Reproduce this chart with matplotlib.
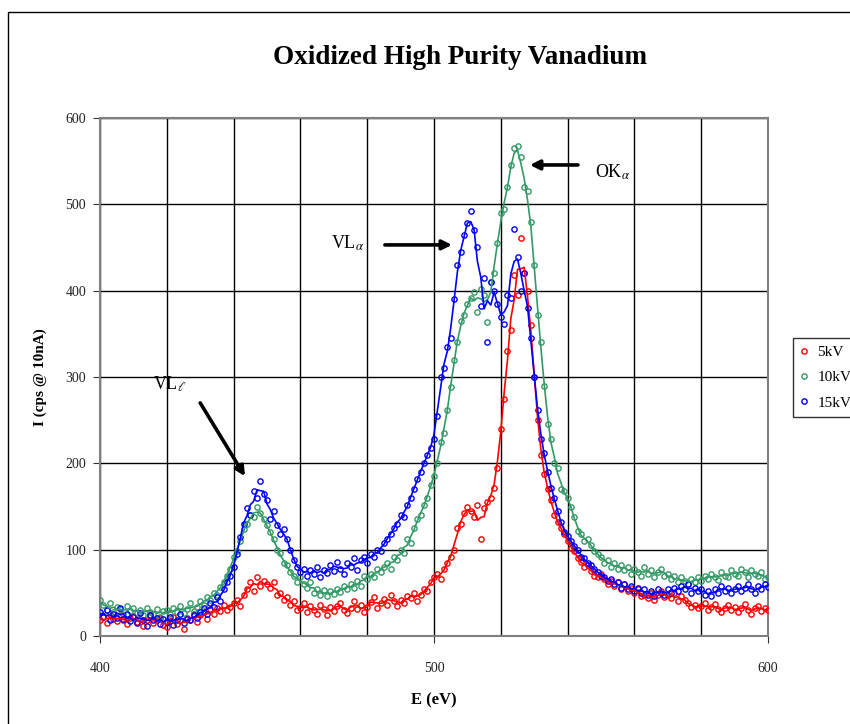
#!/usr/bin/env python3
"""Oxidized high purity vanadium spectra (5, 10, 15 kV)"""

import numpy as np
import pandas as pd
import matplotlib
matplotlib.use('Agg')
import matplotlib.pyplot as plt
from matplotlib.ticker import MultipleLocator, FixedLocator
from matplotlib.patches import Rectangle

plt.rcParams['font.family'] = ['Liberation Serif', 'DejaVu Serif']
plt.rcParams['mathtext.fontset'] = 'stix'

# energy axis, 1 eV steps
energy = np.arange(400, 601)

kv5 = [
    18, 22, 15, 25, 20, 17, 24, 19, 14, 21,
    23, 16, 20, 12, 18, 24, 15, 19, 21, 13,
    10, 17, 22, 14, 19, 8, 21, 18, 25, 16,
    24, 28, 20, 31, 26, 33, 29, 36, 30, 34,
    38, 42, 35, 48, 55, 62, 52, 68, 58, 64,
    60, 56, 63, 48, 50, 42, 45, 36, 40, 30,
    33, 38, 28, 35, 30, 26, 36, 31, 24, 34,
    29, 35, 38, 30, 27, 33, 40, 31, 36, 28,
    34, 39, 45, 32, 38, 43, 36, 48, 40, 35,
    42, 38, 46, 44, 50, 41, 48, 55, 52, 62,
    68, 72, 66, 78, 85, 92, 100, 125, 130, 142,
    150, 145, 138, 152, 112, 148, 155, 160, 172, 195,
    240, 275, 330, 355, 418, 395, 461, 420, 400, 360,
    300, 250, 210, 188, 170, 158, 140, 132, 125, 118,
    110, 102, 98, 90, 86, 80, 82, 75, 70, 68,
    72, 66, 60, 64, 58, 62, 55, 60, 52, 56,
    50, 54, 46, 48, 44, 50, 42, 47, 52, 45,
    48, 44, 50, 40, 46, 42, 38, 34, 36, 32,
    35, 38, 30, 34, 37, 31, 28, 33, 36, 30,
    34, 28, 32, 37, 30, 26, 33, 35, 29, 32,
    30,
]

kv10 = [
    42, 36, 30, 38, 28, 34, 31, 26, 35, 29,
    32, 27, 30, 24, 33, 28, 26, 31, 22, 29,
    30, 25, 33, 28, 35, 27, 31, 38, 29, 34,
    40, 36, 45, 42, 50, 48, 57, 62, 70, 78,
    92, 98, 110, 124, 130, 140, 138, 150, 142, 135,
    128, 120, 112, 100, 96, 84, 82, 74, 70, 63,
    68, 60, 56, 62, 50, 55, 48, 53, 46, 52,
    49, 55, 51, 58, 54, 60, 56, 64, 58, 70,
    66, 72, 68, 78, 74, 80, 85, 78, 92, 88,
    100, 96, 112, 108, 125, 135, 140, 152, 160, 175,
    185, 200, 225, 235, 262, 288, 320, 340, 365, 372,
    385, 392, 398, 375, 402, 395, 364, 410, 420, 455,
    490, 495, 520, 545, 565, 568, 555, 520, 515, 480,
    430, 372, 340, 290, 245, 228, 200, 195, 170, 168,
    160, 150, 138, 122, 118, 110, 112, 105, 98, 95,
    92, 85, 88, 80, 84, 78, 82, 76, 80, 72,
    78, 74, 70, 80, 72, 76, 68, 74, 78, 70,
    72, 66, 70, 62, 68, 64, 60, 66, 62, 68,
    64, 70, 66, 72, 68, 65, 74, 70, 68, 76,
    72, 70, 78, 74, 68, 76, 72, 70, 74, 66,
    68,
]

kv15 = [
    28, 22, 30, 18, 26, 21, 33, 20, 25, 17,
    22, 15, 27, 19, 12, 24, 18, 21, 14, 20,
    16, 22, 13, 19, 25, 15, 20, 18, 24, 21,
    28, 32, 25, 38, 34, 45, 40, 55, 62, 70,
    80, 95, 115, 130, 148, 140, 168, 160, 180, 165,
    158, 136, 145, 128, 118, 124, 112, 100, 88, 80,
    74, 78, 70, 76, 72, 80, 68, 77, 73, 82,
    75, 86, 78, 72, 84, 80, 90, 76, 88, 92,
    85, 95, 92, 100, 98, 108, 112, 118, 125, 130,
    140, 138, 152, 160, 170, 182, 190, 200, 210, 218,
    228, 255, 300, 310, 335, 345, 390, 430, 445, 465,
    478, 492, 470, 450, 382, 415, 340, 410, 400, 385,
    370, 361, 395, 392, 471, 439, 400, 420, 380, 345,
    300, 262, 228, 212, 190, 172, 160, 145, 132, 120,
    116, 110, 104, 100, 92, 90, 84, 82, 78, 74,
    70, 68, 64, 66, 60, 62, 56, 60, 54, 58,
    52, 56, 50, 54, 48, 52, 46, 55, 50, 48,
    54, 50, 56, 52, 58, 54, 60, 50, 56, 52,
    55, 48, 52, 46, 54, 50, 58, 52, 56, 50,
    54, 58, 52, 56, 60, 54, 50, 58, 55, 60,
    57,
]

labels = ['5kV', '10kV', '15kV']
colors = ['#ff0000', '#339966', '#0000ff']

df = pd.DataFrame({'5kV': kv5, '10kV': kv10, '15kV': kv15}, index=energy)
# moving average trendline, like the spreadsheet did
smooth = df.rolling(3, center=True, min_periods=1).mean()

fig = plt.figure(figsize=(8.5, 7.24), dpi=100)
ax = fig.add_axes([100 / 850, 1 - 636 / 724, 668 / 850, 518 / 724])

for lab, col in zip(labels, colors):
    ax.plot(df.index, df[lab], 'o', ms=3.8, mfc='none', mec=col, mew=1.0,
            label=lab, zorder=3)
for lab, col in zip(labels, colors):
    ax.plot(smooth.index, smooth[lab], '-', color=col, lw=1.2, zorder=4)

ax.set_xlim(400, 600)
ax.set_ylim(0, 600)
ax.xaxis.set_major_locator(FixedLocator([400, 500, 600]))
ax.xaxis.set_minor_locator(MultipleLocator(20))
ax.yaxis.set_major_locator(MultipleLocator(100))
ax.grid(True, which='both', color='black', lw=1.0)
ax.set_axisbelow(True)
ax.tick_params(axis='x', which='major', direction='out', length=5, pad=14,
               labelsize=10, color='#333333', labelcolor='#222222')
ax.tick_params(axis='x', which='minor', length=0)
ax.tick_params(axis='y', direction='out', length=5, pad=5,
               labelsize=10, color='#333333', labelcolor='#222222')
for s in ax.spines.values():
    s.set_color('#808080')
    s.set_linewidth(1.5)

ax.set_xlabel('E (eV)', fontsize=12, fontweight='bold')
ax.set_ylabel('I (cps @ 10nA)', fontsize=11, fontweight='bold')
ax.xaxis.set_label_coords(0.5, -0.108)
ax.yaxis.set_label_coords(-0.079, 0.5)

fig.text(460 / 850, 1 - 58 / 724, 'Oxidized High Purity Vanadium',
         ha='center', va='center', fontsize=19.5, fontweight='bold')

# peak labels with arrows
arrow = dict(arrowstyle='-|>', lw=2.6, color='black', mutation_scale=14,
             shrinkA=0, shrinkB=0)
ax.text(474, 455, r'VL$_{\alpha}$', fontsize=13, ha='center', va='center')
ax.annotate('', xy=(505.4, 453), xytext=(485.3, 453), arrowprops=arrow)
ax.text(553.5, 537, r'OK$_{\alpha}$', fontsize=13, ha='center', va='center')
ax.annotate('', xy=(528.7, 545.6), xytext=(543.1, 545.6), arrowprops=arrow)
ax.text(421, 292, r'VL$_{\ell}$', fontsize=13, ha='center', va='center')
ax.annotate('', xy=(443.4, 185), xytext=(430, 270), arrowprops=arrow)

leg = ax.legend(loc='upper left', bbox_to_anchor=(793 / 850, 1 - 338 / 724),
                bbox_transform=fig.transFigure, borderaxespad=0, fontsize=11,
                frameon=True, fancybox=False, handlelength=0.5,
                handletextpad=0.6, borderpad=0.5, labelspacing=0.75)
leg.get_frame().set_edgecolor('black')
leg.get_frame().set_linewidth(1.0)

# chart area border (cut off on the right and bottom)
fig.patches.append(Rectangle((8 / 850, -0.1), 1.2, 1.1 - 12 / 724, fill=False,
                             ec='black', lw=1.0, transform=fig.transFigure))

plt.savefig('out.png', dpi=100)
